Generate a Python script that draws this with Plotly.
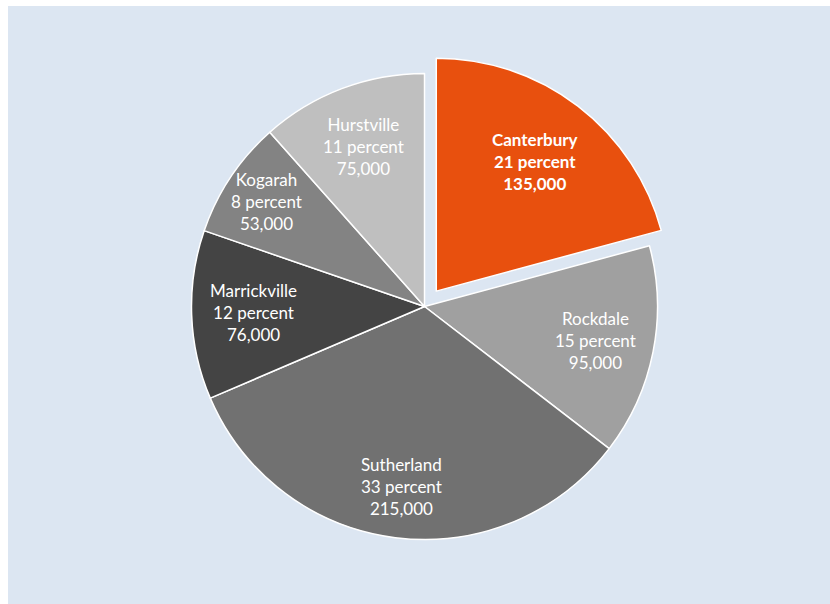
import math
import plotly.graph_objects as go

# Residents by local government area
areas = ["Canterbury", "Rockdale", "Sutherland", "Marrickville", "Kogarah", "Hurstville"]
residents = [135000, 95000, 215000, 76000, 53000, 75000]
percent_labels = [21, 15, 33, 12, 8, 11]

slice_colors = ["#E8500E", "#A0A0A0", "#717171", "#444444", "#838383", "#BFBFBF"]
pulls = [0.083, 0, 0, 0, 0, 0]
# distance of each label from the pie centre, as a fraction of the radius
label_radius = [0.70, 0.75, 0.78, 0.735, 0.815, 0.735]

W, H = 830, 604
margin = dict(l=8, r=0, t=6, b=0)
plot_w = W - margin["l"] - margin["r"]
plot_h = H - margin["t"] - margin["b"]
dom_x = [0.1997, 0.8137]
dom_y = [0.0755, 0.9195]

fig = go.Figure(
    go.Pie(
        labels=areas,
        values=residents,
        textinfo="none",
        marker=dict(colors=slice_colors, line=dict(color="white", width=1.5)),
        pull=pulls,
        sort=False,
        direction="clockwise",
        rotation=0,
        hoverinfo="skip",
        showlegend=False,
        domain=dict(x=dom_x, y=dom_y),
    )
)

# Slice labels placed along each slice's mid angle
cx = sum(dom_x) / 2
cy = sum(dom_y) / 2
radius_px = min((dom_x[1] - dom_x[0]) * plot_w, (dom_y[1] - dom_y[0]) * plot_h) / 2 / (1 + max(pulls))
total = sum(residents)
cum = 0
annotations = []
for area, val, pct, pull, lr in zip(areas, residents, percent_labels, pulls, label_radius):
    mid = (cum + val / 2) / total * 2 * math.pi
    cum += val
    dist = (lr + pull) * radius_px
    x = cx + dist * math.sin(mid) / plot_w
    y = cy + dist * math.cos(mid) / plot_h
    text = f"{area}<br>{pct} percent<br>{val:,}"
    if area == "Canterbury":
        text = f"<b>{text}</b>"
    annotations.append(dict(
        x=x, y=y, xref="paper", yref="paper", text=text, showarrow=False,
        xanchor="center", yanchor="middle", align="center",
        font=dict(family="Lato", size=17, color="white"),
    ))

fig.update_layout(
    width=W,
    height=H,
    margin=margin,
    paper_bgcolor="white",
    font=dict(family="Lato"),
    annotations=annotations,
    shapes=[
        dict(type="rect", xref="paper", yref="paper", x0=0, x1=1, y0=0, y1=1,
             fillcolor="#DCE6F2", line=dict(width=0), layer="below")
    ],
)

fig.write_html("out.html")
